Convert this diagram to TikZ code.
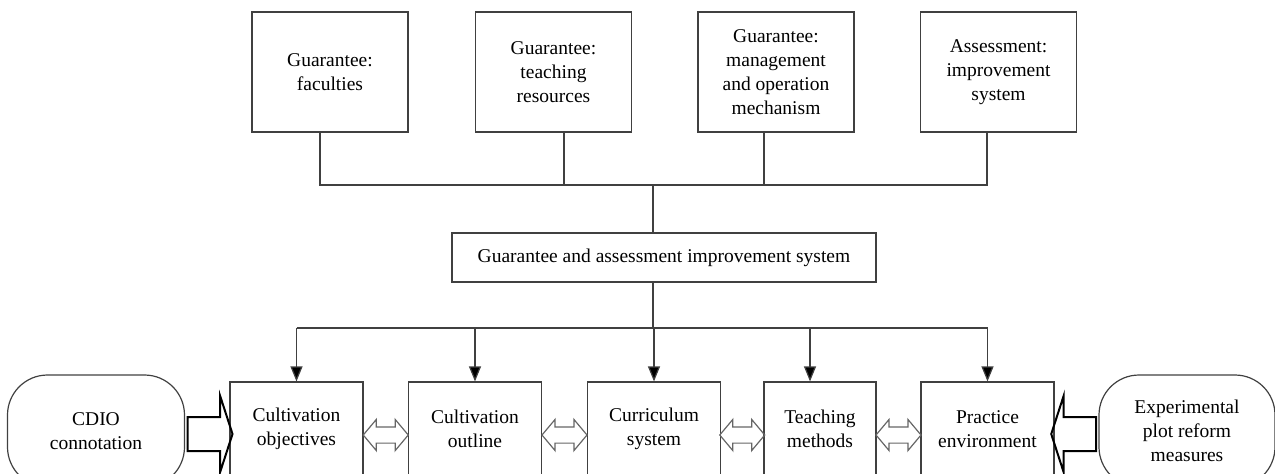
\documentclass[tikz,border=0pt]{standalone}
\usepackage{fontspec}
\setmainfont{Liberation Serif}
\usepackage{tikz}
\usetikzlibrary{arrows,arrows.meta,shapes,calc}
\tikzstyle{block}=[draw=black!75,line width=0.6pt,align=center,inner sep=2pt,font=\fontsize{9.75}{12}\selectfont]
\tikzstyle{topblock}=[block,minimum width=78pt,minimum height=60pt]
\tikzstyle{stage}=[block,minimum width=66.5pt,minimum height=47pt]
\tikzstyle{source}=[block,rounded corners=20pt,minimum width=88.5pt,minimum height=56pt]
\tikzstyle{edge}=[draw=black!75,line width=0.6pt]
\tikzstyle{down}=[edge,-{Triangle[width=6pt,length=7.5pt,fill=black]}]
\tikzstyle{link}=[draw=black!60,line width=0.6pt,double arrow,double arrow head extend=3.75pt,double arrow tip angle=100,inner xsep=0pt,inner ysep=3.75pt,minimum height=22.5pt]
\tikzstyle{feed}=[draw,line width=1pt,single arrow,single arrow head extend=10.5pt,single arrow tip angle=144,inner xsep=0pt,inner ysep=8pt,minimum height=22.5pt]

\begin{document}
\begin{tikzpicture}[x=0.5pt,y=-0.5pt]
    \clip (0,0) rectangle (1275,473);
    % Guarantee blocks on top
    \foreach \pos/\name/\text in {{(330,72)/faculty/Guarantee:\\faculties}, {(553.5,72)/resource/Guarantee:\\teaching\\resources}, {(776,72)/manage/Guarantee:\\management\\and operation\\mechanism}, {(998.5,72)/assess/Assessment:\\improvement\\system}}
        \node[topblock] (\name) at \pos {\text};
    \node[block,minimum width=212pt,minimum height=24.5pt] (system) at (664,257.5) {Guarantee and assessment improvement system};
    % Then the reform stages
    \foreach \pos/\name/\text in {{(296.5,429)/objective/Cultivation\\objectives}, {(475,429)/outline/Cultivation\\outline}, {(654,429)/curriculum/Curriculum\\system}, {(987.5,429)/practice/Practice\\environment}}
        \node[stage] (\name) at \pos {\text};
    \node[stage,minimum width=56pt] (method) at (820,429) {Teaching\\methods};
    \node[source] (cdio) at (96,431) {CDIO\\connotation};
    \node[source,minimum width=88pt] (plot) at (1187,431) {Experimental\\plot reform\\measures};
    % Connect blocks with lines
    \coordinate (bus) at (653,185);
    \coordinate (split) at (653,328);
    \path[edge] ([xshift=-5pt]faculty.south) |- (bus) -| ([xshift=-5.75pt]assess.south);
    \path[edge] ([xshift=5.25pt]resource.south) -- ([xshift=5.25pt]resource.south |- bus);
    \path[edge] ([xshift=-6pt]manage.south) -- ([xshift=-6pt]manage.south |- bus);
    \path[edge] (bus) -- (bus |- system.north);
    \path[edge] (bus |- system.south) -- (split);
    \path[edge] (objective.north |- split) -- (practice.north |- split);
    \foreach \dest in {objective,outline,curriculum,practice}
        \path[down] (\dest.north |- split) -- (\dest.north);
    \path[down] ([xshift=-5pt]method.north |- split) -- ([xshift=-5pt]method.north);
    % Hollow arrows between stages
    \foreach \source/\dest in {objective/outline, outline/curriculum, curriculum/method, method/practice}
        \node[link] at ($(\source.east)!0.5!(\dest.west)+(0,6)$) {};
    \node[feed] at ($(cdio.east)!0.5!(objective.west)+(0,4)$) {};
    \node[feed,shape border rotate=180] at ($(plot.west)!0.5!(practice.east)+(0,4)$) {};
\end{tikzpicture}
\end{document}
